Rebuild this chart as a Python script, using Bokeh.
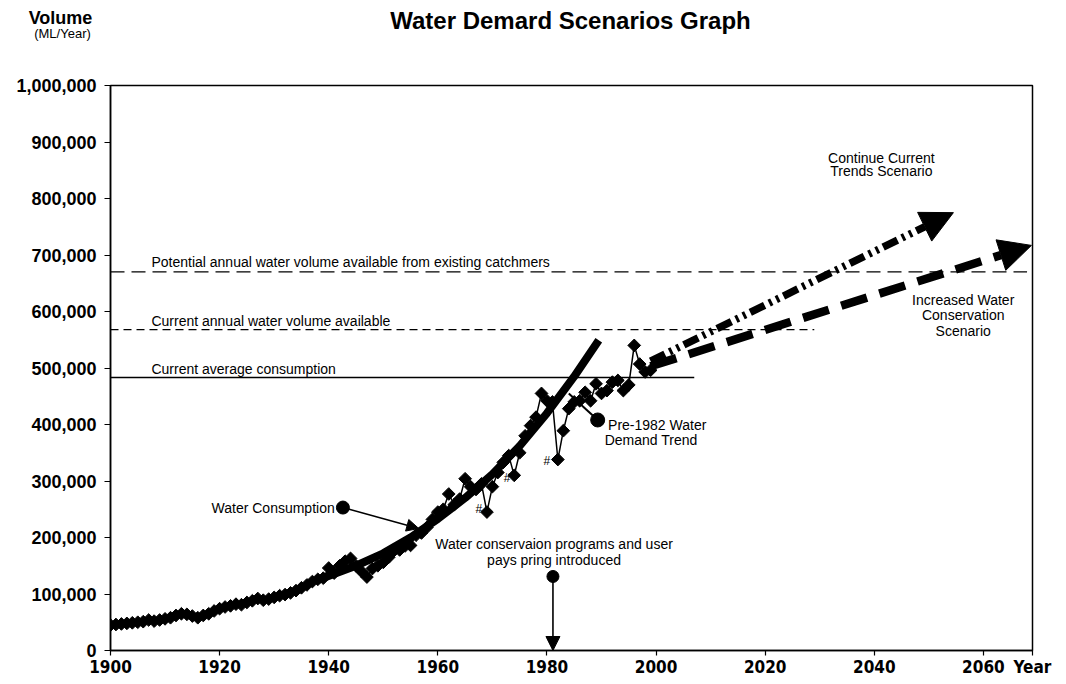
import numpy as np
from bokeh.plotting import figure
from bokeh.layouts import column
from bokeh.models import (Arrow, NormalHead, Label, Range1d, NumeralTickFormatter,
                          FixedTicker)
from bokeh.embed import file_html
from bokeh.resources import INLINE

# ---------------- data ----------------
years = list(range(1900, 2000))
consumption_k = [
    45, 46, 47, 48, 49, 50, 51, 54, 52, 54,
    56, 58, 62, 65, 64, 61, 58, 62, 65, 70,
    74, 77, 79, 82, 81, 85, 88, 92, 89, 91,
    94, 97, 99, 102, 106, 111, 116, 122, 126, 128,
    146, 137, 150, 158, 163, 150, 140, 130, 145, 150,
    156, 165, 177, 178, 185, 186, 204, 208, 218, 232,
    245, 250, 277, 258, 268, 304, 290, 285, 295, 245,
    290, 315, 333, 345, 310, 350, 380, 398, 413, 455,
    442, 440, 338, 389, 428, 440, 442, 457, 442, 472,
    455, 460, 475, 478, 460, 470, 540, 507, 493, 496,
]
consumption = [v * 1000 for v in consumption_k]

trend_years = [1938, 1945, 1950, 1955, 1960, 1965, 1970, 1975, 1980, 1985, 1989.5]
trend_values = [125000, 150000, 172000, 200000, 233000, 270000, 312000, 362000,
                420000, 485000, 549000]

potential_years = [1900, 2068]
potential_value = 670000
current_avail_years = [1900, 2029]
current_avail_value = 568000
current_avg_years = [1900, 2007]
current_avg_value = 483000

continue_years = [1999, 2054.5]
continue_values = [512000, 775000]
conserve_years = [1999, 2068.8]
conserve_values = [503000, 717000]

drought_marks_years = [1967.5, 1972.7, 1980.0]
drought_marks_values = [251000, 306000, 336000]

x_ticks = [1900, 1920, 1940, 1960, 1980, 2000, 2020, 2040, 2060]
x_axis_name_pos = 2069
y_ticks = list(range(0, 1000001, 100000))

FONT = "Liberation Sans"
W = 1058

# ---------------- header (titles above the chart) ----------------
head = figure(width=W, height=60, output_backend="svg", toolbar_location=None,
              x_range=Range1d(0, W), y_range=Range1d(60, 0),
              x_axis_type=None, y_axis_type=None, min_border=0)
head.outline_line_color = None
head.grid.visible = False

# ---------------- main chart ----------------
p = figure(width=W, height=620, output_backend="svg", toolbar_location=None,
           x_range=Range1d(1900, 2069), y_range=Range1d(0, 1000000),
           min_border_left=110, min_border_right=26, min_border_top=25,
           min_border_bottom=30)

aligned = True
try:
    head.frame_align = False
    p.frame_align = False
    aligned = False
except Exception:
    aligned = True

if aligned:
    head.x_range = Range1d(110, 1032)


def hlab(x, y, text, size, bold=False, align="center"):
    head.add_layout(Label(x=x, y=y, text=text, text_font=FONT, text_font_size=size,
                          text_align=align, text_baseline="middle", text_color="black",
                          text_font_style="bold" if bold else "normal"))


hlab(570, 20, "Water Demard Scenarios Graph", "24px", bold=True)
hlab(60, 17, "Volume", "18px", bold=True)
hlab(62, 33, "(ML/Year)", "13px")

p.xgrid.visible = False
p.ygrid.visible = False
p.outline_line_color = "black"
p.outline_line_width = 1.5

p.xaxis.ticker = FixedTicker(ticks=x_ticks + [x_axis_name_pos])
p.xaxis.major_label_overrides = {x_axis_name_pos: "Year"}
p.yaxis.ticker = FixedTicker(ticks=y_ticks)
p.yaxis.formatter = NumeralTickFormatter(format="0,0")
for ax in (p.xaxis, p.yaxis):
    ax.axis_line_color = "black"
    ax.axis_line_width = 1.5
    ax.major_tick_line_color = "black"
    ax.major_tick_line_width = 1.2
    ax.minor_tick_line_color = None
    ax.major_tick_in = 0
    ax.major_tick_out = 6
    ax.major_label_text_color = "black"
    ax.major_label_text_font_style = "bold"
p.xaxis.major_label_text_font = "DejaVu Sans Condensed"
p.xaxis.major_label_text_font_size = "17px"
p.xaxis.major_label_standoff = 1
p.xaxis.major_tick_out = 5
p.yaxis.major_label_text_font = FONT
p.yaxis.major_label_text_font_size = "18px"
p.yaxis.major_label_standoff = 8

# reference lines
p.line(potential_years, [potential_value] * 2, line_color="black", line_width=1.3,
       line_dash="14 7")
p.line(current_avail_years, [current_avail_value] * 2, line_color="black", line_width=1.3,
       line_dash="8 5")
p.line(current_avg_years, [current_avg_value] * 2, line_color="black", line_width=1.5)

# pre-1982 trend curve
p.line(trend_years, trend_values, line_color="black", line_width=8, line_cap="butt")

# consumption data
p.line(years, consumption, line_color="black", line_width=1.5)
p.scatter(years, consumption, marker="square", angle=np.pi / 4, size=9,
          fill_color="black", line_color="black")

# scenario arrows
p.add_layout(Arrow(x_start=continue_years[0], y_start=continue_values[0],
                   x_end=continue_years[1], y_end=continue_values[1],
                   line_width=7.5, line_color="black", line_dash="16 5 3 5 3 5",
                   end=NormalHead(size=32, fill_color="black", line_color="black")))
p.add_layout(Arrow(x_start=conserve_years[0], y_start=conserve_values[0],
                   x_end=conserve_years[1], y_end=conserve_values[1],
                   line_width=8.5, line_color="black", line_dash="27 13",
                   end=NormalHead(size=32, fill_color="black", line_color="black")))

# Water consumption pointer
p.scatter([1942.6], [253000], size=13, fill_color="black", line_color="black")
p.add_layout(Arrow(x_start=1942.6, y_start=253000, x_end=1956.5, y_end=216000,
                   line_width=1.6, line_color="black",
                   end=NormalHead(size=12, fill_color="black", line_color="black")))

# Pre-1982 trend pointer
p.line([1989.3, 1984.0], [408000, 455000], line_color="black", line_width=2)
p.scatter([1989.3], [408000], size=14, fill_color="black", line_color="black")

# Conservation programs pointer
p.scatter([1981.1], [131000], size=12, fill_color="black", line_color="black")
p.add_layout(Arrow(x_start=1981.1, y_start=131000, x_end=1981.1, y_end=0,
                   line_width=1.6, line_color="black",
                   end=NormalHead(size=14, fill_color="black", line_color="black")))


def lab(x, y, text, size="14px", align="left", bold=False):
    p.add_layout(Label(x=x, y=y, text=text, text_font=FONT, text_font_size=size,
                       text_align=align, text_baseline="middle", text_color="black",
                       text_font_style="bold" if bold else "normal"))


lab(1907.5, 688000, "Potential annual water volume available from existing catchmers")
lab(1907.5, 584000, "Current annual water volume available")
lab(1907.5, 499000, "Current average consumption")
lab(1941.1, 253000, "Water Consumption", align="right")
lab(1991.2, 400000, "Pre-1982 Water")
lab(1999.1, 373000, "Demand Trend", align="center")
lab(1981.3, 188000, "Water conservaion programs and user", align="center")
lab(1981.3, 160000, "pays pring introduced", align="center")
lab(2041.3, 872000, "Continue Current", align="center")
lab(2041.3, 848000, "Trends Scenario", align="center")
lab(2056.3, 621000, "Increased Water", align="center")
lab(2056.3, 593000, "Conservation", align="center")
lab(2056.3, 565000, "Scenario", align="center")
for xx, yy in zip(drought_marks_years, drought_marks_values):
    lab(xx, yy, "#", size="12px", align="center")

layout = column(head, p, spacing=0)
open("out.html", "w").write(file_html(layout, INLINE))
